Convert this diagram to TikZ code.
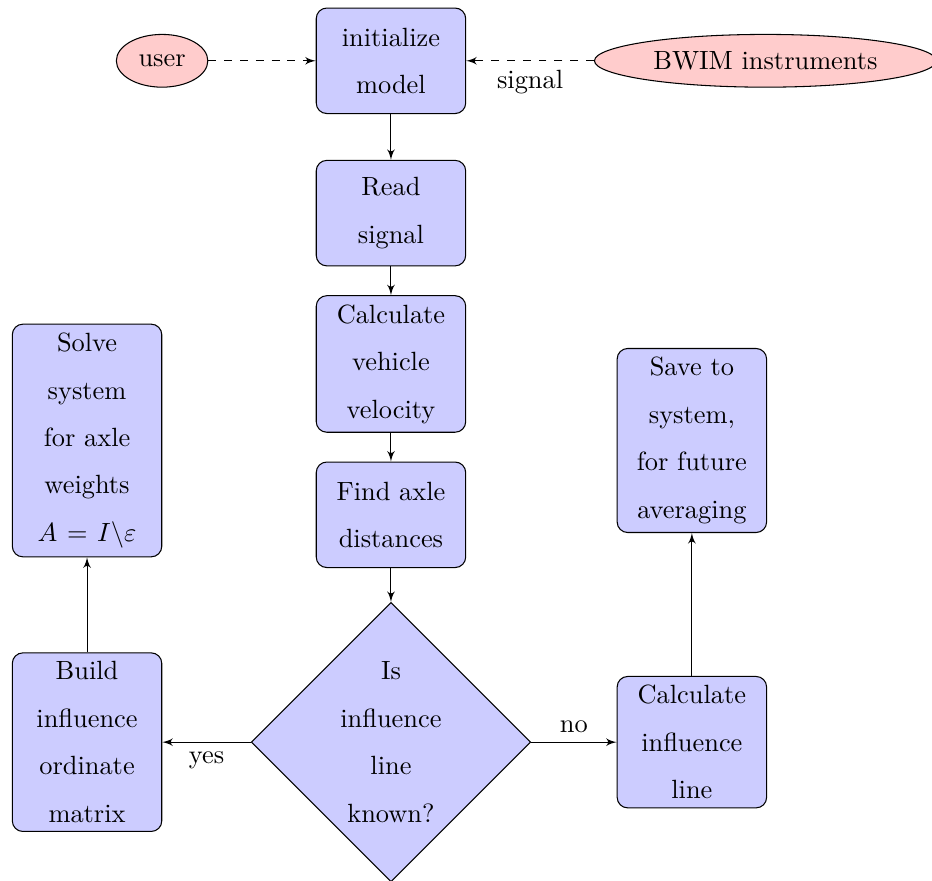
\documentclass[tikz,border=0pt]{standalone}
\usepackage{amsmath}
\usepackage{amssymb}
\usetikzlibrary{shapes.geometric,arrows}
\linespread{1.5}

\begin{document}
\begin{tikzpicture}[>=latex',
      block/.style={draw,shape=rectangle,fill=blue!20,text width=5em,align=center,rounded corners,minimum height=4em},
      decision/.style={draw,shape=diamond,fill=blue!20,text width=4.5em,align=center,inner sep=0pt},
      cloud/.style={draw,shape=ellipse,fill=red!20,minimum height=2em}]
      \useasboundingbox (0,0) rectangle (12.42,-11.74);
      \node at (5.21,-0.81)[block] (init){initialize\\model};
      \node at (5.21,-2.84)[block] (read){Read\\signal};
      \node at (5.21,-4.85)[block] (velocity){Calculate\\vehicle\\velocity};
      \node at (5.21,-6.86)[block] (axles){Find axle\\distances};
      \node at (5.21,-9.89)[decision] (known){Is\\influence\\line\\known?};
      \node at (1.16,-9.89)[block] (build){Build\\influence\\ordinate\\matrix};
      \node at (1.16,-5.87)[block] (solve){Solve\\system\\for axle\\weights\\$A = I\backslash\varepsilon$};
      \node at (9.22,-9.89)[block] (infline){Calculate\\influence\\line};
      \node at (9.22,-5.87)[block] (save){Save to\\system,\\for future\\averaging};
      \node at (2.16,-0.81)[cloud] (user){user};
      \node at (10.2,-0.81)[cloud] (bwim){BWIM instruments};
      \draw[->,dashed] (user) -- (init);
      \draw[->,dashed] (bwim) -- node[below]{signal} (init);
      \draw[->] (init) -- (read);
      \draw[->] (read) -- (velocity);
      \draw[->] (velocity) -- (axles);
      \draw[->] (axles) -- (known);
      \draw[->] (known) -- node[below]{yes} (build);
      \draw[->] (known) -- node[above]{no} (infline);
      \draw[->] (build) -- (solve);
      \draw[->] (infline) -- (save);
\end{tikzpicture}
\end{document}
